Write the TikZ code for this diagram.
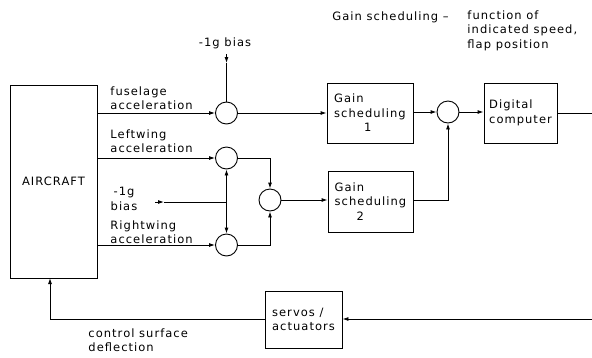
\documentclass[tikz,border=0pt]{standalone}
\usepackage{fontspec}
\setmainfont{DejaVu Sans}[LetterSpace=9]
\usetikzlibrary{arrows.meta}
\begin{document}
\begin{tikzpicture}[x=1pt,y=-1pt,
  line width=0.9pt,
  every node/.style={font=\fontsize{11.5}{14.5}\selectfont},
  arr/.style={-{Latex[length=6pt,width=4pt]}},
  sumnode/.style={draw,circle,minimum size=22pt,inner sep=0pt},
  blk/.style={draw,inner sep=0pt,align=left},
  lbl/.style={inner sep=0pt,align=left,anchor=north west}]
\useasboundingbox (0,0) rectangle (592,357);
% blocks
\node[draw,minimum width=87pt,minimum height=193pt,inner sep=0pt] (ac) at (53.5,181.5) {AIRCRAFT};
\node[blk,minimum width=86pt,minimum height=60pt] (gs1) at (370,113) {Gain\\scheduling\\\hspace*{30pt}1};
\node[blk,minimum width=85pt,minimum height=61pt] (gs2) at (370.5,201.5) {Gain\\scheduling\\\hspace*{22pt}2};
\node[blk,minimum width=73pt,minimum height=60pt] (dc) at (520.5,113) {Digital\\computer};
\node[blk,minimum width=77pt,minimum height=57pt] (sv) at (303.5,319.5) {servos /\\actuators};
% summing junctions
\node[sumnode] (s1) at (226.5,113) {};
\node[sumnode] (sL) at (226.5,158) {};
\node[sumnode] (sR) at (226.5,245) {};
\node[sumnode] (sM) at (270,200) {};
\node[sumnode] (s2) at (448,112) {};
% free ends
\coordinate (b1) at (226.5,54);
\coordinate (b1a) at (226.5,63);
\coordinate (b2) at (155,202);
\coordinate (b2a) at (164,202);
\coordinate (j) at (226.5,202);
\coordinate (r1) at (592,113);
\coordinate (r2) at (592,319);
\coordinate (acin) at (50,278);
% connectors
\draw[arr] (ac.east |- s1) -- (s1);
\draw[arr] (ac.east |- sL) -- (sL);
\draw[arr] (ac.east |- sR) -- (sR);
\draw[arr] (b1) -- (b1a);
\draw (b1a) -- (s1);
\draw[arr] (b2) -- (b2a);
\draw (b2a) -- (j);
\draw[arr] (j) -- (sL);
\draw[arr] (j) -- (sR);
\draw[arr] (sL) -| (sM);
\draw[arr] (sR) -| (sM);
\draw[arr] (s1) -- (gs1);
\draw[arr] (sM) -- (sM -| gs2.west);
\draw[arr] (gs1.east |- s2) -- (s2);
\draw[arr] (gs2.east |- sM) -| (s2);
\draw[arr] (s2) -- (dc.west |- s2);
\draw (dc) -- (r1);
\draw[arr] (r2) -- (sv.east |- r2);
\draw[arr] (sv.west |- r2) -| (acin);
% labels
\node[lbl] (lf) at (110,86) {fuselage\\acceleration};
\node[lbl] (ll) at (110,129) {Leftwing\\acceleration};
\node[lbl,align=center,anchor=north] (lb) at (124,187) {-1g\\bias};
\node[lbl] (lr) at (110,220) {Rightwing\\acceleration};
\node[lbl,anchor=north] (lt) at (225,37) {-1g bias};
\node[lbl,anchor=base west] (lg) at (332,20) {Gain scheduling --};
\node[lbl] (lfn) at (467,10) {function of\\indicated speed,\\flap position};
\node[lbl] (lc) at (88,328) {control surface\\deflection};
\end{tikzpicture}
\end{document}
